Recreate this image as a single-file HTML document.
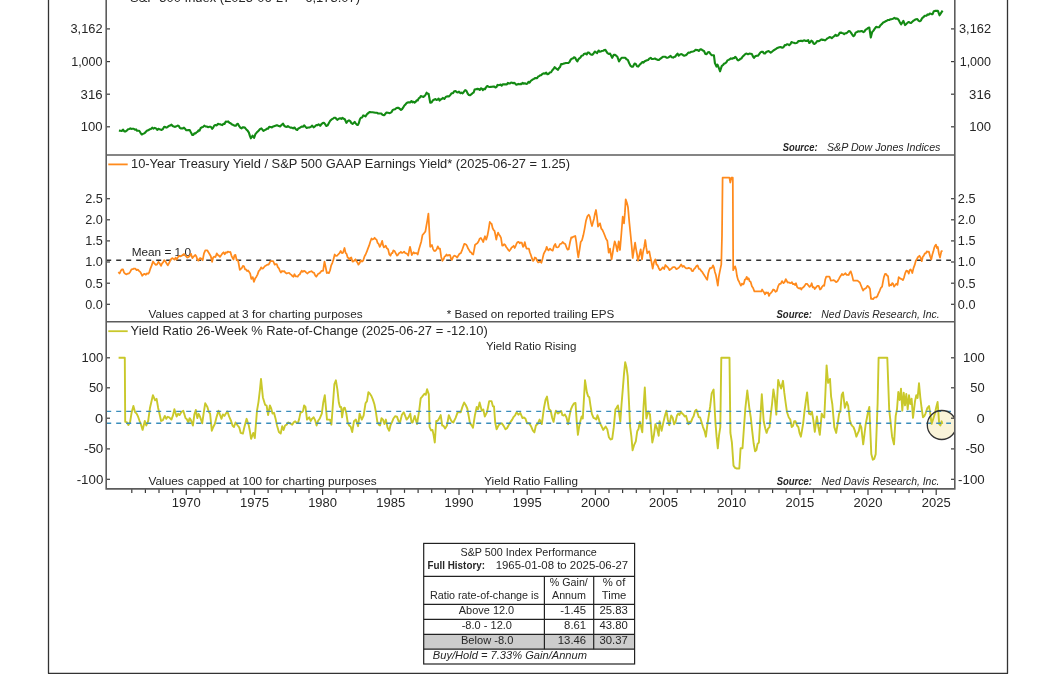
<!DOCTYPE html>
<html><head><meta charset="utf-8"><style>
html,body{margin:0;padding:0;background:#fff;}
svg{display:block;font-family:'Liberation Sans', sans-serif;will-change:transform;}
</style></head><body>
<svg width="1056" height="675" viewBox="0 0 1056 675" fill="#262626">
<defs><clipPath id="pc"><rect x="106" y="322" width="849" height="166"/></clipPath></defs>
<circle cx="941.8" cy="425" r="14.5" fill="#faf4d9" clip-path="url(#pc)"/>
<line x1="48.5" y1="0" x2="48.5" y2="673.5" stroke="#333" stroke-width="1.3"/>
<line x1="1007.5" y1="0" x2="1007.5" y2="673.5" stroke="#333" stroke-width="1.3"/>
<line x1="48" y1="673.4" x2="1008" y2="673.4" stroke="#333" stroke-width="1.3"/>
<line x1="106.2" y1="28.9" x2="110.0" y2="28.9" stroke="#3a3a3a" stroke-width="1.2"/>
<line x1="951.0" y1="28.9" x2="954.8" y2="28.9" stroke="#3a3a3a" stroke-width="1.2"/>
<text x="102.5" y="33.2" font-size="12.7" text-anchor="end" textLength="32" lengthAdjust="spacingAndGlyphs">3,162</text>
<text x="991" y="33.2" font-size="12.7" text-anchor="end" textLength="32" lengthAdjust="spacingAndGlyphs">3,162</text>
<line x1="106.2" y1="61.6" x2="110.0" y2="61.6" stroke="#3a3a3a" stroke-width="1.2"/>
<line x1="951.0" y1="61.6" x2="954.8" y2="61.6" stroke="#3a3a3a" stroke-width="1.2"/>
<text x="102.5" y="65.9" font-size="12.7" text-anchor="end" textLength="31.3" lengthAdjust="spacingAndGlyphs">1,000</text>
<text x="991" y="65.9" font-size="12.7" text-anchor="end" textLength="31.3" lengthAdjust="spacingAndGlyphs">1,000</text>
<line x1="106.2" y1="94.2" x2="110.0" y2="94.2" stroke="#3a3a3a" stroke-width="1.2"/>
<line x1="951.0" y1="94.2" x2="954.8" y2="94.2" stroke="#3a3a3a" stroke-width="1.2"/>
<text x="102.5" y="98.5" font-size="12.7" text-anchor="end" textLength="21.9" lengthAdjust="spacingAndGlyphs">316</text>
<text x="991" y="98.5" font-size="12.7" text-anchor="end" textLength="21.9" lengthAdjust="spacingAndGlyphs">316</text>
<line x1="106.2" y1="126.8" x2="110.0" y2="126.8" stroke="#3a3a3a" stroke-width="1.2"/>
<line x1="951.0" y1="126.8" x2="954.8" y2="126.8" stroke="#3a3a3a" stroke-width="1.2"/>
<text x="102.5" y="131.1" font-size="12.7" text-anchor="end" textLength="21.8" lengthAdjust="spacingAndGlyphs">100</text>
<text x="991" y="131.1" font-size="12.7" text-anchor="end" textLength="21.8" lengthAdjust="spacingAndGlyphs">100</text>
<line x1="106.2" y1="198.7" x2="110.0" y2="198.7" stroke="#3a3a3a" stroke-width="1.2"/>
<line x1="951.0" y1="198.7" x2="954.8" y2="198.7" stroke="#3a3a3a" stroke-width="1.2"/>
<text x="102.8" y="203.0" font-size="12.7" text-anchor="end">2.5</text>
<text x="975.5" y="203.0" font-size="12.7" text-anchor="end">2.5</text>
<line x1="106.2" y1="219.8" x2="110.0" y2="219.8" stroke="#3a3a3a" stroke-width="1.2"/>
<line x1="951.0" y1="219.8" x2="954.8" y2="219.8" stroke="#3a3a3a" stroke-width="1.2"/>
<text x="102.8" y="224.1" font-size="12.7" text-anchor="end">2.0</text>
<text x="975.5" y="224.1" font-size="12.7" text-anchor="end">2.0</text>
<line x1="106.2" y1="240.9" x2="110.0" y2="240.9" stroke="#3a3a3a" stroke-width="1.2"/>
<line x1="951.0" y1="240.9" x2="954.8" y2="240.9" stroke="#3a3a3a" stroke-width="1.2"/>
<text x="102.8" y="245.2" font-size="12.7" text-anchor="end">1.5</text>
<text x="975.5" y="245.2" font-size="12.7" text-anchor="end">1.5</text>
<line x1="106.2" y1="262.0" x2="110.0" y2="262.0" stroke="#3a3a3a" stroke-width="1.2"/>
<line x1="951.0" y1="262.0" x2="954.8" y2="262.0" stroke="#3a3a3a" stroke-width="1.2"/>
<text x="102.8" y="266.3" font-size="12.7" text-anchor="end">1.0</text>
<text x="975.5" y="266.3" font-size="12.7" text-anchor="end">1.0</text>
<line x1="106.2" y1="283.2" x2="110.0" y2="283.2" stroke="#3a3a3a" stroke-width="1.2"/>
<line x1="951.0" y1="283.2" x2="954.8" y2="283.2" stroke="#3a3a3a" stroke-width="1.2"/>
<text x="102.8" y="287.5" font-size="12.7" text-anchor="end">0.5</text>
<text x="975.5" y="287.5" font-size="12.7" text-anchor="end">0.5</text>
<line x1="106.2" y1="304.3" x2="110.0" y2="304.3" stroke="#3a3a3a" stroke-width="1.2"/>
<line x1="951.0" y1="304.3" x2="954.8" y2="304.3" stroke="#3a3a3a" stroke-width="1.2"/>
<text x="102.8" y="308.6" font-size="12.7" text-anchor="end">0.0</text>
<text x="975.5" y="308.6" font-size="12.7" text-anchor="end">0.0</text>
<line x1="106.2" y1="357.8" x2="110.0" y2="357.8" stroke="#3a3a3a" stroke-width="1.2"/>
<line x1="951.0" y1="357.8" x2="954.8" y2="357.8" stroke="#3a3a3a" stroke-width="1.2"/>
<text x="103.3" y="362.1" font-size="12.7" text-anchor="end" textLength="21.8" lengthAdjust="spacingAndGlyphs">100</text>
<text x="984.7" y="362.1" font-size="12.7" text-anchor="end" textLength="21.8" lengthAdjust="spacingAndGlyphs">100</text>
<line x1="106.2" y1="387.8" x2="110.0" y2="387.8" stroke="#3a3a3a" stroke-width="1.2"/>
<line x1="951.0" y1="387.8" x2="954.8" y2="387.8" stroke="#3a3a3a" stroke-width="1.2"/>
<text x="103.3" y="392.1" font-size="12.7" text-anchor="end" textLength="14.4" lengthAdjust="spacingAndGlyphs">50</text>
<text x="984.7" y="392.1" font-size="12.7" text-anchor="end" textLength="14.4" lengthAdjust="spacingAndGlyphs">50</text>
<line x1="106.2" y1="418.2" x2="110.0" y2="418.2" stroke="#3a3a3a" stroke-width="1.2"/>
<line x1="951.0" y1="418.2" x2="954.8" y2="418.2" stroke="#3a3a3a" stroke-width="1.2"/>
<text x="103.3" y="422.5" font-size="12.7" text-anchor="end" textLength="8.2" lengthAdjust="spacingAndGlyphs">0</text>
<text x="984.7" y="422.5" font-size="12.7" text-anchor="end" textLength="8.2" lengthAdjust="spacingAndGlyphs">0</text>
<line x1="106.2" y1="448.9" x2="110.0" y2="448.9" stroke="#3a3a3a" stroke-width="1.2"/>
<line x1="951.0" y1="448.9" x2="954.8" y2="448.9" stroke="#3a3a3a" stroke-width="1.2"/>
<text x="103.3" y="453.2" font-size="12.7" text-anchor="end" textLength="19.3" lengthAdjust="spacingAndGlyphs">-50</text>
<text x="984.7" y="453.2" font-size="12.7" text-anchor="end" textLength="19.3" lengthAdjust="spacingAndGlyphs">-50</text>
<line x1="106.2" y1="479.3" x2="110.0" y2="479.3" stroke="#3a3a3a" stroke-width="1.2"/>
<line x1="951.0" y1="479.3" x2="954.8" y2="479.3" stroke="#3a3a3a" stroke-width="1.2"/>
<text x="103.3" y="483.6" font-size="12.7" text-anchor="end" textLength="26.6" lengthAdjust="spacingAndGlyphs">-100</text>
<text x="984.7" y="483.6" font-size="12.7" text-anchor="end" textLength="26.6" lengthAdjust="spacingAndGlyphs">-100</text>
<line x1="131.8" y1="488.9" x2="131.8" y2="492.9" stroke="#3a3a3a" stroke-width="1.2"/>
<line x1="145.4" y1="488.9" x2="145.4" y2="492.9" stroke="#3a3a3a" stroke-width="1.2"/>
<line x1="159.0" y1="488.9" x2="159.0" y2="492.9" stroke="#3a3a3a" stroke-width="1.2"/>
<line x1="172.7" y1="488.9" x2="172.7" y2="492.9" stroke="#3a3a3a" stroke-width="1.2"/>
<line x1="186.3" y1="488.9" x2="186.3" y2="494.9" stroke="#3a3a3a" stroke-width="1.2"/>
<text x="186.3" y="507.2" font-size="12.7" text-anchor="middle" textLength="28.9" lengthAdjust="spacingAndGlyphs">1970</text>
<line x1="199.9" y1="488.9" x2="199.9" y2="492.9" stroke="#3a3a3a" stroke-width="1.2"/>
<line x1="213.6" y1="488.9" x2="213.6" y2="492.9" stroke="#3a3a3a" stroke-width="1.2"/>
<line x1="227.2" y1="488.9" x2="227.2" y2="492.9" stroke="#3a3a3a" stroke-width="1.2"/>
<line x1="240.8" y1="488.9" x2="240.8" y2="492.9" stroke="#3a3a3a" stroke-width="1.2"/>
<line x1="254.5" y1="488.9" x2="254.5" y2="494.9" stroke="#3a3a3a" stroke-width="1.2"/>
<text x="254.5" y="507.2" font-size="12.7" text-anchor="middle" textLength="28.9" lengthAdjust="spacingAndGlyphs">1975</text>
<line x1="268.1" y1="488.9" x2="268.1" y2="492.9" stroke="#3a3a3a" stroke-width="1.2"/>
<line x1="281.7" y1="488.9" x2="281.7" y2="492.9" stroke="#3a3a3a" stroke-width="1.2"/>
<line x1="295.4" y1="488.9" x2="295.4" y2="492.9" stroke="#3a3a3a" stroke-width="1.2"/>
<line x1="309.0" y1="488.9" x2="309.0" y2="492.9" stroke="#3a3a3a" stroke-width="1.2"/>
<line x1="322.6" y1="488.9" x2="322.6" y2="494.9" stroke="#3a3a3a" stroke-width="1.2"/>
<text x="322.6" y="507.2" font-size="12.7" text-anchor="middle" textLength="28.9" lengthAdjust="spacingAndGlyphs">1980</text>
<line x1="336.3" y1="488.9" x2="336.3" y2="492.9" stroke="#3a3a3a" stroke-width="1.2"/>
<line x1="349.9" y1="488.9" x2="349.9" y2="492.9" stroke="#3a3a3a" stroke-width="1.2"/>
<line x1="363.6" y1="488.9" x2="363.6" y2="492.9" stroke="#3a3a3a" stroke-width="1.2"/>
<line x1="377.2" y1="488.9" x2="377.2" y2="492.9" stroke="#3a3a3a" stroke-width="1.2"/>
<line x1="390.8" y1="488.9" x2="390.8" y2="494.9" stroke="#3a3a3a" stroke-width="1.2"/>
<text x="390.8" y="507.2" font-size="12.7" text-anchor="middle" textLength="28.9" lengthAdjust="spacingAndGlyphs">1985</text>
<line x1="404.5" y1="488.9" x2="404.5" y2="492.9" stroke="#3a3a3a" stroke-width="1.2"/>
<line x1="418.1" y1="488.9" x2="418.1" y2="492.9" stroke="#3a3a3a" stroke-width="1.2"/>
<line x1="431.7" y1="488.9" x2="431.7" y2="492.9" stroke="#3a3a3a" stroke-width="1.2"/>
<line x1="445.4" y1="488.9" x2="445.4" y2="492.9" stroke="#3a3a3a" stroke-width="1.2"/>
<line x1="459.0" y1="488.9" x2="459.0" y2="494.9" stroke="#3a3a3a" stroke-width="1.2"/>
<text x="459.0" y="507.2" font-size="12.7" text-anchor="middle" textLength="28.9" lengthAdjust="spacingAndGlyphs">1990</text>
<line x1="472.6" y1="488.9" x2="472.6" y2="492.9" stroke="#3a3a3a" stroke-width="1.2"/>
<line x1="486.3" y1="488.9" x2="486.3" y2="492.9" stroke="#3a3a3a" stroke-width="1.2"/>
<line x1="499.9" y1="488.9" x2="499.9" y2="492.9" stroke="#3a3a3a" stroke-width="1.2"/>
<line x1="513.5" y1="488.9" x2="513.5" y2="492.9" stroke="#3a3a3a" stroke-width="1.2"/>
<line x1="527.2" y1="488.9" x2="527.2" y2="494.9" stroke="#3a3a3a" stroke-width="1.2"/>
<text x="527.2" y="507.2" font-size="12.7" text-anchor="middle" textLength="28.9" lengthAdjust="spacingAndGlyphs">1995</text>
<line x1="540.8" y1="488.9" x2="540.8" y2="492.9" stroke="#3a3a3a" stroke-width="1.2"/>
<line x1="554.4" y1="488.9" x2="554.4" y2="492.9" stroke="#3a3a3a" stroke-width="1.2"/>
<line x1="568.1" y1="488.9" x2="568.1" y2="492.9" stroke="#3a3a3a" stroke-width="1.2"/>
<line x1="581.7" y1="488.9" x2="581.7" y2="492.9" stroke="#3a3a3a" stroke-width="1.2"/>
<line x1="595.4" y1="488.9" x2="595.4" y2="494.9" stroke="#3a3a3a" stroke-width="1.2"/>
<text x="595.4" y="507.2" font-size="12.7" text-anchor="middle" textLength="28.9" lengthAdjust="spacingAndGlyphs">2000</text>
<line x1="609.0" y1="488.9" x2="609.0" y2="492.9" stroke="#3a3a3a" stroke-width="1.2"/>
<line x1="622.6" y1="488.9" x2="622.6" y2="492.9" stroke="#3a3a3a" stroke-width="1.2"/>
<line x1="636.3" y1="488.9" x2="636.3" y2="492.9" stroke="#3a3a3a" stroke-width="1.2"/>
<line x1="649.9" y1="488.9" x2="649.9" y2="492.9" stroke="#3a3a3a" stroke-width="1.2"/>
<line x1="663.5" y1="488.9" x2="663.5" y2="494.9" stroke="#3a3a3a" stroke-width="1.2"/>
<text x="663.5" y="507.2" font-size="12.7" text-anchor="middle" textLength="28.9" lengthAdjust="spacingAndGlyphs">2005</text>
<line x1="677.2" y1="488.9" x2="677.2" y2="492.9" stroke="#3a3a3a" stroke-width="1.2"/>
<line x1="690.8" y1="488.9" x2="690.8" y2="492.9" stroke="#3a3a3a" stroke-width="1.2"/>
<line x1="704.4" y1="488.9" x2="704.4" y2="492.9" stroke="#3a3a3a" stroke-width="1.2"/>
<line x1="718.1" y1="488.9" x2="718.1" y2="492.9" stroke="#3a3a3a" stroke-width="1.2"/>
<line x1="731.7" y1="488.9" x2="731.7" y2="494.9" stroke="#3a3a3a" stroke-width="1.2"/>
<text x="731.7" y="507.2" font-size="12.7" text-anchor="middle" textLength="28.9" lengthAdjust="spacingAndGlyphs">2010</text>
<line x1="745.3" y1="488.9" x2="745.3" y2="492.9" stroke="#3a3a3a" stroke-width="1.2"/>
<line x1="759.0" y1="488.9" x2="759.0" y2="492.9" stroke="#3a3a3a" stroke-width="1.2"/>
<line x1="772.6" y1="488.9" x2="772.6" y2="492.9" stroke="#3a3a3a" stroke-width="1.2"/>
<line x1="786.2" y1="488.9" x2="786.2" y2="492.9" stroke="#3a3a3a" stroke-width="1.2"/>
<line x1="799.9" y1="488.9" x2="799.9" y2="494.9" stroke="#3a3a3a" stroke-width="1.2"/>
<text x="799.9" y="507.2" font-size="12.7" text-anchor="middle" textLength="28.9" lengthAdjust="spacingAndGlyphs">2015</text>
<line x1="813.5" y1="488.9" x2="813.5" y2="492.9" stroke="#3a3a3a" stroke-width="1.2"/>
<line x1="827.1" y1="488.9" x2="827.1" y2="492.9" stroke="#3a3a3a" stroke-width="1.2"/>
<line x1="840.8" y1="488.9" x2="840.8" y2="492.9" stroke="#3a3a3a" stroke-width="1.2"/>
<line x1="854.4" y1="488.9" x2="854.4" y2="492.9" stroke="#3a3a3a" stroke-width="1.2"/>
<line x1="868.0" y1="488.9" x2="868.0" y2="494.9" stroke="#3a3a3a" stroke-width="1.2"/>
<text x="868.0" y="507.2" font-size="12.7" text-anchor="middle" textLength="28.9" lengthAdjust="spacingAndGlyphs">2020</text>
<line x1="881.7" y1="488.9" x2="881.7" y2="492.9" stroke="#3a3a3a" stroke-width="1.2"/>
<line x1="895.3" y1="488.9" x2="895.3" y2="492.9" stroke="#3a3a3a" stroke-width="1.2"/>
<line x1="909.0" y1="488.9" x2="909.0" y2="492.9" stroke="#3a3a3a" stroke-width="1.2"/>
<line x1="922.6" y1="488.9" x2="922.6" y2="492.9" stroke="#3a3a3a" stroke-width="1.2"/>
<line x1="936.2" y1="488.9" x2="936.2" y2="494.9" stroke="#3a3a3a" stroke-width="1.2"/>
<text x="936.2" y="507.2" font-size="12.7" text-anchor="middle" textLength="28.9" lengthAdjust="spacingAndGlyphs">2025</text>
<text x="130" y="2.0" font-size="13" textLength="230" lengthAdjust="spacingAndGlyphs">S&amp;P 500 Index (2025-06-27 = 6,173.07)</text>
<text x="782.7" y="150.8" font-size="11.8" font-weight="bold" font-style="italic" textLength="34.8" lengthAdjust="spacingAndGlyphs">Source:</text>
<text x="827" y="150.8" font-size="11.8" font-style="italic" textLength="113.4" lengthAdjust="spacingAndGlyphs">S&amp;P Dow Jones Indices</text>
<line x1="108.3" y1="164.4" x2="127.7" y2="164.4" stroke="#ff8a1c" stroke-width="1.8"/>
<text x="131" y="168.2" font-size="13" textLength="439" lengthAdjust="spacingAndGlyphs">10-Year Treasury Yield / S&amp;P 500 GAAP Earnings Yield* (2025-06-27 = 1.25)</text>
<text x="131.7" y="255.9" font-size="11.8" textLength="59.3" lengthAdjust="spacingAndGlyphs">Mean = 1.0</text>
<text x="148.6" y="318" font-size="11.8" textLength="214" lengthAdjust="spacingAndGlyphs">Values capped at 3 for charting purposes</text>
<text x="446.8" y="317.8" font-size="11.8" textLength="167.5" lengthAdjust="spacingAndGlyphs">* Based on reported trailing EPS</text>
<text x="776.5" y="317.8" font-size="11.8" font-weight="bold" font-style="italic" textLength="35.4" lengthAdjust="spacingAndGlyphs">Source:</text>
<text x="821.3" y="317.8" font-size="11.8" font-style="italic" textLength="118.3" lengthAdjust="spacingAndGlyphs">Ned Davis Research, Inc.</text>
<line x1="108.3" y1="331.2" x2="127.7" y2="331.2" stroke="#c9c82a" stroke-width="1.8"/>
<text x="130.6" y="335.3" font-size="13" textLength="357.1" lengthAdjust="spacingAndGlyphs">Yield Ratio 26-Week % Rate-of-Change (2025-06-27 = -12.10)</text>
<text x="485.9" y="349.6" font-size="11.8" textLength="90.5" lengthAdjust="spacingAndGlyphs">Yield Ratio Rising</text>
<text x="484.2" y="484.8" font-size="11.8" textLength="93.7" lengthAdjust="spacingAndGlyphs">Yield Ratio Falling</text>
<text x="148.4" y="485" font-size="11.8" textLength="228.4" lengthAdjust="spacingAndGlyphs">Values capped at 100 for charting purposes</text>
<text x="776.7" y="484.9" font-size="11.8" font-weight="bold" font-style="italic" textLength="35.3" lengthAdjust="spacingAndGlyphs">Source:</text>
<text x="821.6" y="484.9" font-size="11.8" font-style="italic" textLength="117.9" lengthAdjust="spacingAndGlyphs">Ned Davis Research, Inc.</text>
<polyline points="118.9,130.6 120.4,130.8 121.7,131.0 123.0,129.6 124.3,131.4 125.6,131.4 126.8,130.6 128.1,129.3 129.3,129.0 130.3,128.3 131.4,128.9 132.4,128.8 133.7,128.7 135.0,129.8 136.1,129.4 137.1,130.8 138.1,130.8 139.2,130.8 140.5,132.8 141.8,134.5 143.0,133.9 144.2,133.4 145.4,132.4 146.8,130.8 148.2,130.3 149.6,129.3 150.9,128.9 152.2,127.7 153.5,128.6 154.8,127.9 156.0,128.4 157.2,129.9 158.4,128.8 159.5,129.3 160.5,129.5 161.6,130.0 162.9,129.1 164.2,126.7 165.2,127.0 166.3,127.6 167.3,127.2 168.7,126.1 170.1,125.6 171.5,124.6 172.7,126.0 173.9,126.6 175.1,126.9 176.4,126.3 177.7,125.6 178.7,125.9 179.8,127.8 180.8,128.5 181.9,128.3 182.9,128.4 184.0,127.7 185.0,128.7 186.1,130.1 187.1,130.3 188.4,130.1 189.7,130.0 191.0,132.6 192.3,135.0 193.3,134.9 194.4,133.3 195.4,133.4 196.4,132.4 197.5,131.9 198.5,130.4 199.6,130.6 200.6,128.2 201.8,127.3 203.1,126.9 204.3,125.6 205.5,126.5 206.7,126.5 207.9,127.2 209.5,126.7 210.8,126.8 212.1,128.8 213.1,127.8 214.2,125.6 215.4,125.0 216.7,125.4 217.9,123.8 219.2,124.3 220.2,124.3 221.3,124.8 222.3,125.1 223.3,123.8 224.5,124.0 225.8,121.6 227.0,121.7 228.2,121.4 229.4,122.7 230.6,123.2 231.7,124.3 232.7,124.7 233.8,125.3 234.8,125.7 235.8,125.8 236.9,124.2 237.9,123.8 239.2,126.2 240.5,127.9 241.5,128.4 242.6,127.3 243.6,127.4 244.9,127.6 246.3,129.5 247.6,130.6 248.9,132.6 249.9,135.9 250.9,138.3 252.5,135.7 254.1,137.8 255.4,134.2 256.7,132.6 257.8,131.5 258.8,130.5 260.1,128.9 261.4,128.4 262.4,129.6 263.4,131.0 264.7,130.1 266.0,129.5 267.1,128.6 268.1,128.7 269.2,126.9 270.6,127.0 271.9,127.4 273.3,126.4 274.7,125.9 276.1,125.4 277.5,125.3 278.8,126.1 280.1,126.4 281.7,124.8 283.1,123.7 284.4,126.0 285.8,126.7 286.9,126.9 287.9,126.1 289.0,126.9 290.4,127.7 291.7,127.6 293.1,128.4 294.5,127.5 295.9,129.3 297.3,130.0 298.3,128.5 299.4,128.0 300.4,127.4 301.6,126.6 302.9,126.8 304.1,125.3 305.4,126.7 306.7,127.9 308.1,127.5 309.4,127.5 310.8,126.9 312.2,125.6 313.6,127.3 315.0,126.4 316.2,125.1 317.4,125.3 318.6,124.3 320.2,125.8 321.4,124.1 322.7,123.1 323.9,122.7 325.1,124.1 326.3,126.0 327.6,125.4 328.9,123.0 330.2,120.8 331.6,119.4 333.0,118.6 334.4,117.7 335.4,117.7 336.5,119.1 337.5,119.8 338.8,118.7 340.1,118.2 341.3,118.9 342.5,117.9 343.6,118.8 344.8,119.3 346.4,122.9 347.7,121.1 349.0,120.3 350.2,121.1 351.4,123.1 352.6,123.9 353.6,123.0 354.7,121.9 355.7,123.3 356.8,124.7 357.8,125.0 358.8,123.3 359.9,119.3 360.9,117.7 362.1,117.4 363.2,115.4 364.4,115.8 365.5,116.4 366.7,114.6 367.7,113.6 368.8,112.6 369.8,112.0 371.2,112.3 372.6,112.3 374.0,112.5 375.4,112.8 376.7,112.7 378.1,113.5 379.2,113.5 380.2,113.5 381.3,113.5 382.3,114.7 383.4,115.1 384.4,115.1 385.4,113.7 386.5,112.5 387.9,112.8 389.2,113.1 390.6,112.8 391.6,112.0 392.7,109.9 393.9,109.6 395.0,109.3 396.2,108.2 397.4,107.8 398.6,107.9 399.8,108.9 401.0,109.9 402.1,109.1 403.1,107.7 404.2,105.7 405.2,104.8 406.3,103.3 407.3,102.6 408.7,102.3 410.1,102.5 411.5,101.0 412.5,102.3 413.6,101.7 414.6,102.6 415.6,101.9 416.7,100.3 417.7,100.5 418.7,98.4 419.8,97.7 420.8,96.1 422.1,96.5 423.4,96.9 424.5,96.1 425.5,94.9 426.6,92.7 427.6,93.7 428.6,93.7 430.2,102.6 431.6,102.4 433.0,100.2 434.4,99.5 435.5,99.1 436.6,100.0 437.6,99.6 438.6,98.5 439.6,100.6 440.7,99.5 441.8,98.9 442.8,97.9 444.4,99.0 445.7,97.0 447.0,96.4 448.1,96.4 449.1,96.4 450.4,94.9 451.7,93.2 453.0,93.1 454.3,91.2 455.6,91.1 456.9,92.2 457.9,92.4 459.0,91.7 460.5,93.2 461.5,92.5 462.6,93.3 463.6,92.2 465.2,90.1 466.3,90.6 467.8,93.8 468.9,95.0 469.9,95.3 471.2,94.4 472.5,93.2 473.6,92.6 474.6,89.6 476.0,89.2 477.4,88.9 478.8,89.1 479.8,90.0 480.9,88.2 481.9,88.6 482.9,90.1 484.0,88.9 485.0,89.1 486.6,86.5 487.6,86.0 488.7,86.8 489.7,87.0 490.9,86.9 492.1,86.8 493.3,86.5 494.4,86.6 495.4,87.5 496.5,87.0 497.5,84.9 498.6,85.3 499.6,84.9 500.6,84.6 501.7,85.7 502.7,84.4 504.1,84.4 505.5,84.4 506.9,84.4 507.9,82.9 509.0,83.5 510.0,83.4 511.1,82.6 512.1,82.7 513.2,83.3 514.2,82.8 515.2,83.6 516.3,84.7 517.3,84.4 518.3,83.9 519.4,84.2 520.4,83.9 521.5,84.1 522.5,82.8 523.7,83.7 524.9,83.3 526.1,83.9 527.3,83.8 528.5,81.8 529.6,82.7 530.8,80.8 531.8,80.2 532.9,79.4 534.0,78.9 535.0,78.1 536.0,78.1 537.1,78.1 538.2,76.5 539.2,76.1 540.2,75.2 541.3,75.1 542.3,74.0 543.6,73.3 545.0,73.6 546.2,72.7 547.4,74.3 548.6,73.9 549.8,72.5 551.1,72.2 552.3,70.3 553.5,69.0 554.7,67.2 555.9,68.2 557.0,69.2 558.0,69.8 559.0,68.0 560.1,66.9 561.1,64.0 562.5,64.1 563.8,63.5 564.8,63.4 565.8,63.0 567.1,63.0 568.4,63.0 569.5,62.0 570.5,60.0 571.6,58.8 572.8,58.5 574.0,57.3 575.2,57.8 576.2,59.9 577.3,61.4 578.3,59.5 579.4,58.3 580.5,57.5 581.5,55.7 582.9,55.5 584.2,53.7 585.6,53.6 586.7,54.5 587.7,52.6 588.8,52.6 590.0,53.8 591.2,54.6 592.4,54.7 593.7,53.2 595.0,51.5 596.0,52.4 597.1,53.1 598.6,50.5 599.7,51.7 600.7,51.4 601.8,51.0 603.1,50.8 604.4,50.0 605.4,49.9 606.5,51.6 607.5,53.1 608.8,54.0 610.1,53.6 611.2,55.8 612.2,57.8 613.8,54.7 615.0,54.8 616.2,55.7 617.4,56.8 619.0,61.4 620.3,59.4 621.6,57.8 622.8,57.8 624.0,57.8 625.2,57.8 626.5,59.3 627.8,59.9 629.1,63.0 630.4,65.6 631.7,66.7 633.0,66.6 634.6,63.5 635.8,64.0 637.0,66.2 638.2,66.6 639.6,64.8 641.0,63.4 642.4,62.0 643.5,62.6 644.7,61.2 645.8,60.7 647.0,60.2 648.1,59.9 649.4,58.6 650.7,57.8 651.8,58.9 652.9,59.0 653.9,58.8 655.0,58.5 656.3,59.3 657.6,59.9 658.9,60.0 660.2,58.8 661.5,57.8 662.8,56.8 664.1,56.8 665.4,56.8 666.5,57.6 667.5,57.8 668.5,57.4 669.6,56.6 670.6,55.9 671.8,57.2 673.1,57.6 674.3,56.8 675.3,56.6 676.4,54.9 677.5,53.6 678.7,55.6 679.9,54.7 681.0,54.1 682.1,54.4 683.1,55.2 684.2,55.7 685.6,55.3 686.9,54.3 688.3,52.6 689.5,52.8 690.6,52.1 691.8,51.8 693.0,51.5 694.3,51.1 695.6,49.7 696.7,50.1 697.7,50.0 698.8,51.0 699.8,49.8 700.8,49.3 701.9,49.8 702.9,50.6 704.0,51.0 705.3,53.9 706.6,54.1 707.9,52.3 709.2,52.1 710.5,53.9 711.8,55.2 712.8,55.2 713.9,55.2 714.9,63.0 716.5,66.6 717.5,64.6 718.8,67.9 720.1,71.3 721.7,66.1 723.0,65.0 724.3,63.5 725.3,63.3 726.4,62.2 727.4,60.4 728.6,59.9 729.8,59.3 730.9,58.4 732.1,58.8 733.1,58.1 734.2,58.2 735.2,56.8 736.2,57.8 737.3,59.6 738.3,60.4 739.3,59.9 740.4,58.8 741.5,58.4 742.5,56.8 743.5,55.9 744.6,54.7 745.7,53.7 746.7,53.6 748.0,54.3 749.3,53.6 750.6,53.8 751.9,54.1 753.0,56.5 754.0,57.8 755.3,56.3 756.6,55.7 757.9,55.8 759.2,54.1 760.5,52.4 761.8,51.7 762.9,51.9 763.9,53.5 765.0,53.5 766.2,52.0 767.4,51.5 768.6,51.1 769.7,51.9 770.7,52.6 771.9,51.8 773.2,50.7 774.4,49.8 775.6,49.3 776.8,48.2 778.0,47.7 779.3,47.3 780.6,47.0 782.2,47.7 783.5,47.2 784.8,45.1 785.8,45.2 786.9,44.3 787.9,44.3 789.2,45.2 790.5,44.0 791.5,42.1 792.6,42.5 793.8,42.7 795.1,43.2 796.3,43.0 797.3,42.6 798.3,41.1 799.4,41.1 800.4,40.7 801.5,40.9 802.5,41.1 803.6,40.5 804.6,40.4 805.9,40.9 807.2,40.9 808.2,40.2 809.3,43.0 810.3,42.1 811.4,40.7 812.4,41.3 813.5,43.5 814.5,44.0 815.8,43.0 817.1,41.1 818.4,41.3 819.7,40.7 820.8,39.8 821.8,39.4 822.8,40.0 823.9,39.9 824.9,40.4 826.2,39.5 827.5,38.3 828.5,37.9 829.6,37.1 830.6,37.3 831.8,38.1 833.1,37.0 834.3,36.2 835.6,34.8 836.9,35.9 838.3,35.3 839.6,32.9 841.0,32.6 842.1,33.0 843.1,33.3 844.2,34.1 845.3,33.2 846.5,33.1 847.6,32.2 848.8,31.0 849.9,31.3 851.1,32.9 852.3,34.8 853.5,36.2 854.5,35.5 855.6,32.6 857.0,32.0 858.4,31.2 859.8,31.5 861.4,31.0 862.4,31.3 863.4,32.1 864.5,31.6 865.5,29.7 866.6,29.3 868.0,28.0 869.3,27.5 870.8,37.5 872.2,32.0 873.5,30.6 874.8,28.6 876.1,26.9 877.6,27.2 879.1,27.3 880.5,25.2 882.0,23.9 883.2,22.5 884.3,22.0 885.5,21.3 886.8,20.7 888.0,20.0 889.3,20.0 890.6,19.2 891.9,19.1 893.1,18.7 894.4,17.9 895.5,18.7 896.5,18.4 897.6,18.8 898.7,20.0 900.0,22.6 901.2,24.3 902.3,22.6 903.4,20.9 905.1,25.1 906.4,23.9 907.6,22.6 908.7,22.0 909.9,22.7 911.0,23.0 912.3,21.7 913.6,20.6 914.9,19.8 916.2,19.2 917.3,19.0 918.5,20.7 919.6,21.3 920.9,20.6 922.2,18.1 923.4,17.2 924.7,15.8 926.4,15.8 927.5,14.4 928.7,14.7 929.8,13.6 931.5,14.1 932.6,14.2 933.8,11.2 934.9,10.9 936.4,10.9 937.9,10.9 939.6,15.3 941.1,12.9 942.6,10.7" fill="none" stroke="#138a13" stroke-width="2.1" stroke-linejoin="round"/>
<line x1="106.2" y1="260.2" x2="951" y2="260.2" stroke="#333" stroke-width="1.4" stroke-dasharray="5,5"/>
<polyline points="118.3,272.2 119.6,273.5 120.9,270.6 122.0,269.4 123.0,269.4 124.1,272.7 125.4,273.9 126.7,274.3 127.9,273.6 129.1,273.3 130.3,271.7 131.5,269.4 132.8,269.2 134.0,268.5 135.3,268.6 136.6,270.1 137.9,269.6 139.2,271.1 140.2,271.9 141.3,273.8 142.3,275.8 143.4,274.5 144.4,273.8 145.9,274.8 147.0,273.3 148.0,273.8 149.1,272.7 150.4,268.6 151.7,265.4 153.0,261.5 154.3,263.3 155.8,264.9 157.1,264.4 158.4,261.8 159.7,263.5 161.0,265.9 162.1,263.3 163.1,262.3 164.2,260.2 165.7,261.8 166.8,263.8 167.8,265.4 168.9,263.4 169.9,261.3 171.2,258.9 172.5,258.1 173.6,259.1 174.6,259.7 175.6,257.6 176.7,259.6 177.7,257.6 178.9,255.9 180.2,256.3 181.4,256.0 182.7,255.0 184.0,254.0 185.0,255.4 186.1,256.2 187.1,257.6 188.4,257.2 189.7,256.0 191.0,253.8 192.3,258.1 193.3,256.9 194.4,255.8 195.4,255.0 196.4,256.4 197.5,260.1 198.5,260.7 199.6,258.4 200.6,258.1 201.6,259.0 202.7,260.2 204.0,253.3 205.3,250.3 206.4,250.3 207.4,250.3 208.4,252.3 209.5,254.0 210.8,256.3 212.1,261.8 213.1,257.7 214.2,256.6 215.5,257.0 216.8,253.4 217.9,255.1 218.9,255.6 220.0,256.9 221.3,255.1 222.6,253.2 223.6,252.3 224.7,254.3 225.7,252.4 226.8,252.8 227.8,251.7 229.4,252.2 230.4,252.0 231.5,255.8 232.5,257.8 233.5,259.5 234.4,255.5 235.4,254.8 236.7,260.0 238.2,261.0 239.8,269.9 240.9,268.8 241.9,267.8 242.9,265.9 244.0,266.3 245.0,269.3 246.0,269.4 247.1,271.1 248.1,270.5 249.2,272.0 250.2,273.6 251.3,278.8 252.8,277.2 253.9,281.9 255.1,278.6 256.3,276.9 257.5,274.6 258.7,271.1 259.9,269.9 261.1,267.3 262.1,268.6 263.2,268.3 264.8,266.3 266.0,265.6 267.2,264.7 268.4,264.7 269.4,263.4 270.5,261.0 271.8,261.0 273.1,261.0 274.7,264.7 275.8,264.1 276.8,264.2 277.8,267.1 278.9,268.3 279.9,270.9 280.9,272.5 282.0,270.9 283.0,271.5 284.2,271.1 285.5,272.8 286.7,273.5 287.9,273.0 289.1,272.9 290.3,274.1 291.4,274.9 292.4,276.1 293.4,276.8 294.5,274.2 295.5,276.3 296.6,276.3 297.6,276.7 298.6,275.1 299.7,274.5 300.7,272.5 301.8,270.7 302.8,271.9 303.9,270.9 305.1,271.4 306.3,272.6 307.5,273.5 308.5,272.5 309.6,271.8 310.6,271.5 311.7,271.2 312.7,272.4 313.8,272.5 315.3,275.6 316.3,276.7 317.4,275.1 318.4,273.5 319.5,273.3 320.5,272.2 321.6,270.9 323.1,270.9 324.5,261.6 325.6,266.8 326.8,273.0 327.9,272.6 328.9,273.1 330.0,270.5 331.2,265.4 332.4,262.8 333.5,259.3 334.7,254.5 335.9,255.9 337.1,255.7 338.3,254.3 339.5,253.2 340.7,251.0 341.9,253.1 343.0,252.8 344.5,248.0 345.6,252.9 346.6,253.9 347.5,257.1 348.4,258.1 349.4,259.3 350.3,257.9 351.3,257.5 352.5,261.6 353.5,261.5 354.5,260.2 355.5,259.3 356.5,261.3 357.4,262.3 358.4,264.6 359.6,263.1 360.8,260.5 362.0,261.6 363.2,260.5 364.4,256.7 365.6,254.5 366.8,251.7 367.9,248.6 369.1,245.7 370.3,241.8 371.5,238.5 372.5,239.5 373.6,239.0 374.6,237.8 375.6,239.1 376.6,239.7 377.6,242.9 378.6,243.9 379.8,246.8 381.0,244.4 382.2,240.9 383.0,245.1 383.9,247.4 384.8,246.7 385.7,245.6 386.9,248.3 388.1,249.2 389.3,254.4 390.5,255.7 391.5,253.1 392.4,253.1 393.4,250.4 394.6,251.1 395.8,253.3 397.0,255.7 398.0,254.8 398.9,253.3 399.9,252.8 400.9,251.8 402.0,253.0 403.1,252.5 404.1,251.6 405.1,253.0 406.1,253.3 407.2,253.9 408.2,255.7 409.1,250.8 410.0,246.8 410.9,250.5 411.8,255.1 412.7,253.6 413.6,252.2 414.6,253.4 415.6,253.2 416.7,253.2 417.7,254.5 418.9,249.5 420.1,245.6 421.3,241.4 422.5,235.0 423.5,233.9 424.4,232.8 425.4,231.4 426.4,225.7 427.4,220.1 428.4,213.6 429.3,230.2 430.2,246.8 431.0,246.0 431.9,245.0 433.1,249.1 434.3,251.0 435.5,250.8 436.7,249.2 437.8,246.4 438.9,248.7 440.0,248.6 441.2,256.9 442.4,260.8 443.6,259.3 444.6,256.5 445.5,256.2 446.5,254.5 447.7,255.7 448.9,254.9 450.1,255.1 451.0,258.7 451.9,259.9 452.9,257.4 453.8,256.0 454.8,255.7 456.0,256.4 457.2,257.5 458.4,255.4 459.5,253.7 460.7,253.3 461.9,250.7 463.1,247.3 464.3,243.9 465.2,244.2 466.1,244.5 467.1,246.1 468.1,248.6 469.2,250.2 470.2,252.2 471.2,252.3 472.2,254.2 473.2,254.5 474.1,250.1 475.0,245.0 476.2,243.9 477.3,243.3 478.5,241.5 479.7,238.7 480.9,237.9 482.1,239.9 483.3,242.1 484.1,238.7 485.0,236.2 486.2,239.7 487.4,235.8 488.6,229.6 489.8,221.9 490.7,223.3 491.6,223.7 492.6,228.0 493.5,229.8 494.5,230.8 495.4,234.9 496.3,239.7 497.2,235.2 498.1,232.6 499.1,234.8 500.0,235.9 501.0,237.9 502.2,245.6 503.2,245.3 504.2,244.2 505.2,245.0 506.2,247.0 507.2,248.2 508.3,249.9 509.3,251.0 510.5,249.5 511.7,247.4 512.7,246.8 513.7,245.8 514.7,248.0 515.7,245.8 516.6,243.5 517.6,242.1 518.6,241.8 519.7,243.3 520.8,242.5 521.8,242.7 523.0,246.8 523.9,245.8 524.8,242.1 525.6,245.5 526.5,248.6 527.7,248.6 528.9,248.6 529.8,252.2 530.7,254.5 531.9,258.2 533.1,261.0 534.0,260.0 534.8,257.5 536.0,258.1 537.2,261.0 538.2,262.4 539.3,262.0 540.4,261.5 541.4,262.8 542.5,258.9 543.7,253.9 544.7,251.8 545.7,250.3 546.7,246.8 547.6,249.3 548.5,250.4 550.0,248.7 551.4,250.0 552.7,250.7 554.0,245.9 555.3,244.0 556.3,247.2 557.3,247.3 558.6,247.0 560.0,244.0 561.4,243.7 562.7,242.0 564.0,243.4 565.3,244.0 566.7,248.0 567.7,249.7 568.7,249.3 570.0,242.5 571.3,237.3 572.3,237.6 573.3,236.7 574.3,236.4 575.3,236.0 576.3,242.2 577.3,250.5 578.3,257.3 579.5,250.0 580.7,242.0 582.0,240.2 583.3,235.3 584.6,228.8 586.0,220.7 587.4,216.3 588.7,214.7 589.8,216.7 590.9,222.2 592.0,226.0 593.0,222.2 594.0,218.7 595.0,213.5 596.0,210.0 597.0,217.0 598.0,226.7 599.0,224.8 600.0,223.3 601.3,228.7 602.4,229.9 603.6,232.5 604.7,235.3 606.0,238.8 607.3,240.7 608.7,252.7 610.0,248.7 611.6,259.3 612.6,253.5 613.7,246.6 614.7,241.3 616.0,245.3 617.3,251.3 618.7,241.3 620.0,250.0 621.4,233.2 622.7,216.7 624.0,223.3 624.9,212.9 625.7,199.3 626.9,202.8 628.0,207.3 629.4,223.2 630.7,236.0 631.7,246.3 632.7,258.0 633.9,250.2 635.1,242.7 636.1,249.3 637.0,254.0 638.0,260.7 639.4,255.0 640.7,249.3 642.0,259.3 643.1,251.6 644.2,247.0 645.3,240.0 646.3,247.7 647.3,253.3 648.3,251.7 649.3,251.3 650.4,257.3 651.6,262.5 652.7,268.7 654.0,262.1 655.3,259.3 656.5,264.5 657.6,265.3 658.8,268.2 660.0,270.2 661.0,269.6 661.9,268.4 662.9,267.3 664.2,269.1 665.4,265.0 666.7,266.3 667.7,267.3 668.6,268.5 669.6,270.2 670.6,269.0 671.5,268.9 672.5,267.3 673.5,267.1 674.5,267.1 675.4,267.7 676.4,269.2 677.6,268.4 678.8,267.7 680.0,266.3 681.2,264.4 682.5,266.8 683.7,265.9 685.0,267.3 686.2,268.4 687.5,268.4 688.7,267.9 689.9,268.3 690.9,268.6 691.8,271.0 692.8,271.2 694.0,269.1 695.2,268.0 696.4,266.0 697.6,265.4 698.9,268.9 700.1,269.2 701.4,271.2 702.4,272.2 703.3,273.8 704.3,275.3 705.3,276.9 706.2,278.4 707.2,279.8 708.2,273.5 709.1,270.2 710.1,268.0 711.0,268.3 712.0,267.6 713.0,265.4 714.0,267.7 714.9,271.9 715.9,275.0 716.8,279.8 717.8,285.6 718.8,276.8 719.7,272.1 721.3,264.4 722.0,235.5 722.6,177.7 723.7,177.7 724.9,177.7 726.0,177.7 727.1,177.7 728.3,177.7 729.4,177.7 730.3,182.5 731.3,177.7 732.8,177.7 733.2,270.2 734.2,268.0 735.1,266.3 736.1,269.8 737.0,276.1 738.0,279.8 739.0,281.5 739.9,283.6 740.9,285.6 741.9,283.6 742.8,284.5 743.8,283.7 744.8,279.7 745.7,279.4 746.7,276.9 747.7,279.4 748.7,278.3 749.6,281.3 750.6,281.8 751.9,286.3 753.1,288.0 754.4,291.4 755.6,291.4 756.7,291.4 757.9,291.4 759.0,291.4 760.2,291.4 761.2,291.5 762.1,289.5 763.1,291.2 764.0,292.3 765.0,294.3 766.0,292.3 767.0,293.0 768.0,292.5 769.0,295.9 770.0,293.6 771.0,292.9 772.1,291.5 773.2,289.5 774.2,289.8 775.5,291.9 776.8,291.0 778.1,286.4 779.4,283.8 780.7,283.8 782.0,281.1 783.5,283.2 784.6,282.1 785.8,279.1 786.8,281.0 787.7,282.7 788.7,282.3 789.8,283.0 790.8,283.2 791.9,282.2 792.9,284.2 794.0,283.8 795.0,285.0 796.0,283.2 797.1,286.9 798.1,288.0 799.2,288.5 800.2,287.9 801.3,289.5 802.3,287.8 803.3,287.4 804.6,285.9 805.9,283.8 807.1,283.9 808.4,285.5 809.6,286.9 810.7,285.7 811.7,283.2 812.7,287.4 813.8,287.1 814.8,289.0 816.1,287.4 817.4,285.8 818.7,285.9 820.0,289.5 821.0,288.7 822.1,286.8 823.2,285.5 824.2,285.8 825.2,279.8 826.3,276.5 827.3,276.5 828.4,276.5 829.4,276.5 830.9,280.6 832.2,280.5 833.5,280.1 834.8,280.8 836.1,282.2 837.5,281.3 838.8,279.1 839.8,277.2 840.9,275.6 841.9,273.9 843.1,275.0 844.3,274.2 845.5,273.3 846.5,274.8 847.6,274.9 848.6,275.0 849.7,272.7 850.7,271.3 852.0,275.1 853.3,280.6 854.3,280.6 855.4,280.6 856.5,280.6 857.5,280.6 858.7,281.6 859.9,282.7 861.1,285.8 862.2,288.5 863.2,290.5 864.2,289.0 865.3,288.6 866.4,287.7 867.4,285.8 868.7,286.7 870.0,289.0 871.0,298.9 872.0,298.7 873.1,299.2 874.2,297.8 875.2,297.3 876.3,297.5 877.4,296.1 878.5,293.3 879.7,290.8 880.9,287.8 882.1,286.6 883.0,281.6 883.9,277.1 885.1,273.9 886.3,274.2 887.1,275.7 888.0,276.0 889.2,286.0 890.2,284.6 891.2,285.3 892.2,283.1 893.1,283.7 894.0,286.6 895.1,285.3 896.3,283.7 897.5,284.9 898.7,277.1 899.9,278.3 901.1,278.9 902.0,279.3 902.9,280.1 904.1,277.3 905.2,273.1 906.4,270.6 907.6,271.1 908.8,273.6 909.7,270.2 910.6,269.4 911.5,270.7 912.3,273.0 913.5,268.1 914.7,264.9 915.9,260.6 917.1,258.7 918.2,256.8 919.4,255.8 920.6,257.8 921.8,261.1 922.8,256.8 923.8,255.6 924.8,253.4 925.8,253.4 926.8,251.3 927.9,251.9 928.9,251.7 930.1,256.2 931.3,259.4 932.3,254.8 933.3,251.6 934.3,247.5 935.1,245.7 936.0,244.6 936.9,248.0 937.8,246.9 938.9,253.5 940.0,257.6 941.4,251.1 942.6,251.1" fill="none" stroke="#ff8a1c" stroke-width="1.75" stroke-linejoin="round"/>
<polyline points="118.6,357.7 120.1,357.7 121.7,357.7 123.2,357.7 124.8,357.7 125.2,421.8 126.8,422.2 128.4,425.0 130.0,422.5 131.7,412.2 133.4,406.0 135.0,412.0 136.6,413.6 138.1,416.7 139.6,421.0 141.1,424.9 142.6,429.9 144.8,421.0 146.3,425.5 148.2,420.8 150.0,407.7 151.4,401.7 152.9,395.1 155.1,400.3 156.6,398.8 158.1,407.7 159.6,414.3 161.1,421.0 162.9,420.1 164.8,415.9 166.3,418.8 167.7,416.8 169.2,417.3 171.4,419.6 172.9,415.7 174.4,409.2 176.6,416.6 178.1,413.7 179.6,415.1 181.4,412.1 183.3,410.7 185.5,418.1 186.9,419.3 188.4,422.5 189.6,418.1 190.7,419.6 192.9,425.5 194.4,414.4 195.8,410.0 197.3,418.1 198.7,413.8 200.0,416.6 202.2,423.3 203.7,412.8 205.2,403.3 207.4,407.0 208.9,412.2 210.1,413.6 211.8,430.7 213.3,427.0 214.8,424.0 216.7,416.6 218.5,410.7 220.0,414.9 221.5,418.8 222.9,414.4 224.4,415.9 225.9,413.5 227.4,411.4 229.2,416.7 231.1,421.0 232.6,425.7 234.0,427.0 235.5,422.5 237.7,425.5 239.2,427.3 240.7,432.9 242.9,433.6 244.4,427.0 246.6,418.8 248.8,425.5 249.9,431.3 251.1,438.8 253.3,432.9 254.8,438.1 257.0,410.7 258.5,401.8 259.9,390.0 261.0,378.9 262.9,397.4 265.1,404.8 266.6,405.5 268.1,415.1 269.9,405.5 271.2,408.4 272.5,413.6 274.0,412.7 275.5,418.4 277.0,425.5 278.9,432.0 280.7,433.6 282.2,426.1 283.6,430.0 285.1,425.5 286.6,424.7 288.1,422.5 290.0,423.3 292.2,424.7 293.7,422.3 295.2,421.3 296.6,422.9 298.1,422.5 299.2,418.9 300.4,412.9 301.8,412.2 303.0,411.1 304.1,405.5 305.5,407.0 307.0,419.6 309.2,417.3 310.7,421.0 312.2,418.6 313.7,417.3 315.1,420.1 316.6,425.5 318.1,420.8 319.6,418.8 321.8,413.6 323.3,402.2 324.8,395.1 327.0,419.6 328.5,419.6 330.0,419.6 331.4,424.7 332.9,404.3 334.4,384.0 335.9,380.3 337.4,389.7 338.8,402.5 340.0,407.1 341.1,407.0 342.1,417.3 343.5,408.4 344.8,407.7 346.2,412.7 347.7,422.5 349.2,425.5 350.7,426.7 352.2,432.1 354.0,421.2 355.9,419.6 358.1,426.2 359.6,413.6 361.8,419.6 363.6,415.6 365.5,403.3 367.0,401.1 368.4,392.1 369.9,393.7 371.4,396.0 372.9,399.6 374.4,404.3 375.8,411.4 377.3,421.7 378.8,424.7 380.0,425.5 381.5,418.2 383.0,419.6 384.4,424.0 385.9,419.6 387.5,427.5 389.2,430.7 390.6,425.1 391.9,422.4 393.3,418.8 395.1,416.2 397.0,416.6 398.5,421.0 400.0,422.5 401.9,414.8 403.7,412.2 405.1,415.7 406.6,419.6 408.5,417.4 410.3,413.6 411.5,422.1 412.6,422.5 414.8,415.9 417.0,424.0 419.2,410.7 420.7,398.4 422.2,396.6 424.4,393.7 425.8,394.8 427.1,389.2 428.8,394.4 429.6,427.0 431.1,430.5 432.5,429.9 433.6,435.1 434.8,442.5 436.2,421.0 437.4,421.0 438.5,419.6 440.7,415.1 442.2,425.5 443.6,425.9 445.1,428.4 447.0,425.4 448.8,415.1 451.0,420.3 452.1,421.9 453.3,422.5 455.5,418.1 457.7,412.2 459.2,412.2 460.7,412.2 462.4,406.9 464.1,402.5 465.7,405.0 467.3,408.5 468.6,415.5 470.0,423.3 471.5,425.1 473.0,427.7 474.9,415.4 476.7,407.0 478.1,409.3 479.6,402.5 481.8,410.7 483.3,409.4 484.8,416.6 487.0,412.2 489.2,401.1 490.4,401.1 491.5,401.1 492.9,406.2 494.0,406.4 495.2,422.5 496.6,429.2 498.1,426.3 499.6,424.0 501.8,423.3 503.6,425.9 505.5,429.2 507.0,428.2 508.5,425.5 510.4,422.1 512.2,419.6 513.7,416.8 515.1,415.4 516.6,412.2 518.5,414.7 520.3,412.9 522.5,418.1 524.0,417.5 525.5,418.8 527.0,423.3 529.2,423.3 531.0,426.2 532.9,430.7 534.4,432.4 535.9,425.5 537.8,423.7 539.6,419.6 541.8,424.0 544.0,407.7 545.5,400.0 547.0,396.6 548.9,408.8 550.7,410.7 552.2,418.0 553.6,421.8 554.8,415.0 555.9,410.7 558.1,413.6 560.0,412.0 561.2,411.0 562.4,415.2 563.6,415.5 564.9,414.4 566.5,417.5 568.2,424.2 569.5,415.9 570.9,409.4 572.2,406.3 573.9,403.5 575.5,403.0 576.7,421.3 577.9,434.8 579.1,426.9 580.4,420.9 581.6,416.5 582.8,418.5 585.0,380.2 586.9,392.4 588.1,396.3 589.3,397.3 590.5,405.6 591.8,413.6 593.5,417.9 595.1,418.5 596.3,419.5 597.5,415.2 598.8,418.9 600.0,423.4 601.6,426.3 603.2,429.9 604.5,428.1 605.7,426.6 607.3,429.4 608.9,437.2 610.5,439.5 612.2,438.9 613.8,427.2 615.4,409.5 616.6,407.8 617.9,405.4 619.1,413.0 620.3,421.7 621.5,404.8 622.8,389.1 624.0,373.9 625.2,362.2 626.5,367.4 627.7,376.1 628.9,400.5 630.1,426.6 631.4,436.6 632.6,450.3 634.2,444.8 635.8,441.3 637.2,431.3 638.5,429.0 639.9,421.7 641.1,427.1 642.3,432.3 643.5,407.4 644.8,387.5 646.4,418.5 648.2,411.5 650.0,414.6 651.1,428.5 652.3,442.5 653.8,435.8 655.4,424.2 657.0,428.4 658.7,435.8 659.6,421.3 661.6,430.9 663.2,423.1 664.8,416.2 666.4,410.7 667.8,419.4 669.3,425.2 671.2,415.5 672.7,417.8 674.1,424.2 675.5,422.0 677.0,415.5 678.3,413.6 679.5,415.0 680.8,411.7 682.1,413.4 683.4,414.4 684.7,416.5 686.0,415.8 687.2,420.1 688.5,424.2 689.8,421.7 691.1,421.8 692.4,418.4 693.7,416.0 695.0,411.1 696.3,409.7 697.6,413.2 698.8,417.1 700.1,417.5 701.5,422.0 703.0,427.1 704.5,430.9 705.9,436.7 707.3,425.2 708.8,415.5 710.2,406.2 711.7,393.4 713.6,389.5 715.5,423.2 716.6,436.9 717.8,448.3 719.0,435.7 720.3,427.1 721.3,357.7 722.9,357.7 724.6,357.7 726.2,357.7 727.9,357.7 729.5,357.7 730.4,432.9 731.9,442.5 733.5,465.6 735.1,467.9 736.7,468.5 738.0,468.5 739.3,468.5 740.6,448.3 742.5,448.3 744.0,427.0 745.4,407.8 747.3,390.5 749.3,407.8 750.8,417.7 752.2,430.9 753.7,443.8 755.1,451.2 756.4,450.1 757.6,443.8 758.9,442.5 760.3,418.6 761.8,394.3 763.7,421.3 765.2,428.2 766.6,432.9 768.0,428.6 769.5,427.1 770.8,414.3 772.1,403.5 773.4,389.5 774.8,398.1 776.3,414.6 778.2,379.9 779.7,384.9 781.1,388.5 783.0,380.8 784.3,392.7 785.6,402.5 786.9,411.7 788.8,417.5 790.2,419.3 791.7,427.1 793.0,425.9 794.2,421.3 795.5,421.3 797.0,425.5 798.4,427.1 799.6,433.2 800.9,436.7 802.0,430.4 803.2,423.2 804.5,411.2 805.8,401.4 807.1,392.4 809.0,413.6 810.5,414.5 811.9,411.7 813.3,419.8 814.8,431.9 816.9,416.5 818.3,426.7 819.8,434.8 821.7,413.6 823.0,416.7 824.3,417.5 825.5,390.8 826.6,365.4 828.1,382.8 830.0,378.9 831.1,396.7 832.3,404.0 834.3,427.1 836.2,432.9 837.7,423.4 839.1,413.6 840.4,411.3 841.7,395.0 843.0,392.4 844.9,407.8 846.8,402.0 848.2,405.8 849.7,419.4 851.0,424.1 852.2,425.9 853.5,427.1 855.0,431.2 856.4,436.7 857.6,433.7 858.9,430.9 860.1,424.8 861.3,427.1 863.2,444.4 864.5,434.0 865.7,424.2 867.0,417.5 868.1,411.7 869.3,406.9 871.3,454.1 872.8,459.8 874.2,458.9 875.7,454.1 877.6,404.0 878.6,357.7 880.0,357.7 881.5,357.7 883.0,357.7 884.4,357.7 885.8,357.7 887.3,357.7 889.2,409.7 890.7,423.3 892.1,436.7 894.0,444.4 895.7,415.9 897.0,409.3 898.3,392.0 899.7,400.0 901.0,388.6 902.3,410.6 903.7,392.6 905.0,405.3 906.3,394.0 907.7,409.3 909.0,395.3 910.3,404.0 911.6,398.6 913.0,417.9 915.0,401.3 916.3,395.3 917.6,398.0 919.0,383.3 920.3,397.3 921.6,408.0 923.0,417.3 924.3,416.1 925.6,413.3 927.3,408.1 929.0,406.0 930.3,414.0 931.6,423.9 933.3,418.8 935.0,413.3 936.3,407.0 937.6,402.0 939.2,423.9 940.4,425.4 941.6,421.3 942.3,423.9" fill="none" stroke="#c9c82a" stroke-width="1.9" stroke-linejoin="round"/>
<line x1="106.2" y1="411.4" x2="951" y2="411.4" stroke="#3a8dbb" stroke-width="1.4" stroke-dasharray="5,5"/>
<line x1="106.2" y1="423.3" x2="951" y2="423.3" stroke="#3a8dbb" stroke-width="1.4" stroke-dasharray="5,5"/>
<circle cx="941.8" cy="425" r="14.5" fill="none" stroke="#333" stroke-width="1.3" clip-path="url(#pc)"/>
<path d="M106.2,0 V488.9 H954.8 V0" fill="none" stroke="#5c5c5c" stroke-width="1.6"/>
<line x1="106.2" y1="155" x2="954.8" y2="155" stroke="#5c5c5c" stroke-width="1.6"/>
<line x1="106.2" y1="321.8" x2="954.8" y2="321.8" stroke="#5c5c5c" stroke-width="1.6"/>
<rect x="423.7" y="634.4" width="210.90000000000003" height="14.800000000000068" fill="#cccccc"/>
<rect x="423.7" y="543.4" width="210.90000000000003" height="120.60000000000002" fill="none" stroke="#222" stroke-width="1.2"/>
<line x1="423.7" y1="576.4" x2="634.6" y2="576.4" stroke="#222" stroke-width="1.2"/>
<line x1="423.7" y1="604.3" x2="634.6" y2="604.3" stroke="#222" stroke-width="1.2"/>
<line x1="423.7" y1="619.3" x2="634.6" y2="619.3" stroke="#222" stroke-width="1.2"/>
<line x1="423.7" y1="634.4" x2="634.6" y2="634.4" stroke="#222" stroke-width="1.2"/>
<line x1="423.7" y1="649.2" x2="634.6" y2="649.2" stroke="#222" stroke-width="1.2"/>
<line x1="544.4" y1="576.4" x2="544.4" y2="649.2" stroke="#222" stroke-width="1.2"/>
<line x1="593.7" y1="576.4" x2="593.7" y2="649.2" stroke="#222" stroke-width="1.2"/>
<text x="460.5" y="556.1" font-size="11.3" textLength="136.3" lengthAdjust="spacingAndGlyphs">S&amp;P 500 Index Performance</text>
<text x="427.5" y="568.7" font-size="11.3" font-weight="bold" textLength="57.5" lengthAdjust="spacingAndGlyphs">Full History:</text>
<text x="495.7" y="568.7" font-size="11.3" textLength="132.5" lengthAdjust="spacingAndGlyphs">1965-01-08 to 2025-06-27</text>
<text x="429.9" y="599.1" font-size="11.3" textLength="109" lengthAdjust="spacingAndGlyphs">Ratio rate-of-change is</text>
<text x="549.8" y="586.3" font-size="11.3" textLength="38" lengthAdjust="spacingAndGlyphs">% Gain/</text>
<text x="552" y="599.1" font-size="11.3" textLength="34" lengthAdjust="spacingAndGlyphs">Annum</text>
<text x="614" y="586.3" font-size="11.3" text-anchor="middle">% of</text>
<text x="614" y="599.1" font-size="11.3" text-anchor="middle">Time</text>
<text x="458.8" y="614" font-size="11.3" textLength="55.4" lengthAdjust="spacingAndGlyphs">Above 12.0</text>
<text x="461.7" y="628.9" font-size="11.3" textLength="50.3" lengthAdjust="spacingAndGlyphs">-8.0 - 12.0</text>
<text x="460.9" y="644.4" font-size="11.3" textLength="52.5" lengthAdjust="spacingAndGlyphs">Below -8.0</text>
<text x="586.1" y="614" font-size="11.3" text-anchor="end">-1.45</text>
<text x="586.1" y="628.9" font-size="11.3" text-anchor="end">8.61</text>
<text x="586.1" y="644.4" font-size="11.3" text-anchor="end">13.46</text>
<text x="627.8" y="614" font-size="11.3" text-anchor="end">25.83</text>
<text x="627.8" y="628.9" font-size="11.3" text-anchor="end">43.80</text>
<text x="627.8" y="644.4" font-size="11.3" text-anchor="end">30.37</text>
<text x="432.8" y="658.7" font-size="11.3" font-style="italic" textLength="154.2" lengthAdjust="spacingAndGlyphs">Buy/Hold = 7.33% Gain/Annum</text>
</svg>
</body></html>
